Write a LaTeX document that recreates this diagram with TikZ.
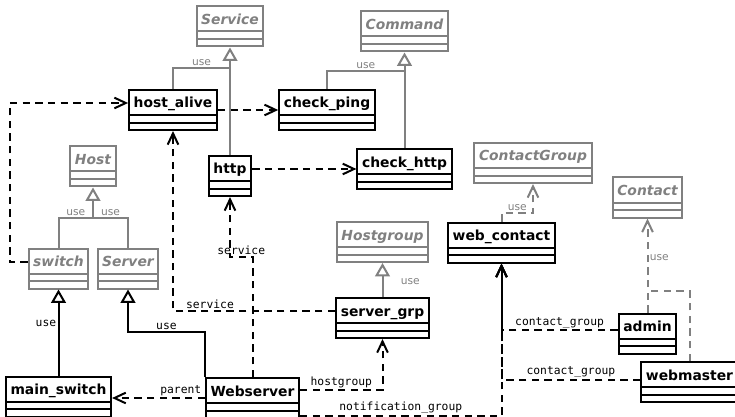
\documentclass[tikz,border=0pt]{standalone}
\usepackage{fontspec}
\setmainfont{DejaVu Sans}
\setmonofont{DejaVu Sans Mono}
\usetikzlibrary{arrows.meta}

\def\lw{1.5pt}

% class boxes: name + two empty compartments
\tikzset{
	classbox/.style={
		draw=#1, text=#1, line width=\lw,
		inner xsep=3.5pt, inner ysep=0pt,
		text height=13.5pt, text depth=16.5pt,
		font=\bfseries\fontsize{10.4}{12}\selectfont,
		path picture={
			\draw[#1, line width=\lw] ([yshift=11.25pt]path picture bounding box.south west) -- ([yshift=11.25pt]path picture bounding box.south east);
			\draw[#1, line width=\lw] ([yshift=5.6pt]path picture bounding box.south west) -- ([yshift=5.6pt]path picture bounding box.south east);
		}% path picture
	},
	classbox/.default=black,
	abstractbox/.style={classbox=gray, font=\bfseries\itshape\fontsize{10.4}{12}\selectfont}
}

% links
\tikzset{
	gen/.style={line width=\lw, -{Triangle[open, length=10pt, width=11pt]}},
	plain/.style={line width=\lw},
	dep/.style={line width=\lw, dash pattern=on 5.5pt off 4pt, -{Straight Barb[length=8.5pt, width=8pt]}},
	deponly/.style={line width=\lw, dash pattern=on 5.5pt off 4pt},
	lbl/.style={font=\ttfamily\fontsize{8.5}{10}\selectfont, inner sep=1pt},
	uselbl/.style={font=\fontsize{8}{10}\selectfont, text=gray, inner sep=1pt}
}

\begin{document}
\begin{tikzpicture}[x=0.75pt, y=-0.75pt]
\useasboundingbox (0,0) rectangle (735,417);

% abstract classes
\node[abstractbox] (Service) at (230,26.5) {Service};
\node[abstractbox] (Command) at (404.5,31.5) {Command};
\node[abstractbox] (Host) at (93,166.5) {Host};
\node[abstractbox] (ContactGroup) at (533,163) {ContactGroup};
\node[abstractbox] (Contact) at (647.5,197.5) {Contact};
\node[abstractbox] (Hostgroup) at (382.5,242) {Hostgroup};
\node[abstractbox] (switch) at (58.5,268.5) {switch};
\node[abstractbox] (Server) at (128,268.5) {Server};

% objects
\node[classbox] (host_alive) at (173,110) {host\_alive};
\node[classbox] (check_ping) at (327,110) {check\_ping};
\node[classbox] (http) at (230,176) {http};
\node[classbox] (check_http) at (404.5,169) {check\_http};
\node[classbox] (web_contact) at (501.5,242.5) {web\_contact};
\node[classbox] (server_grp) at (382.5,318) {server\_grp};
\node[classbox] (admin) at (647.5,333.5) {admin};
\node[classbox] (webmaster) at (689.5,382) {webmaster};
\node[classbox] (main_switch) at (58.5,396.5) {main\_switch};
\node[classbox] (Webserver) at (252.5,398) {Webserver};

% joints
\coordinate (servicejoin) at (230,68);
\coordinate (commandjoin) at (404.5,71);
\coordinate (hostjoin) at (93,218);
\coordinate (cgjoin) at (533,213);
\coordinate (contactjoin) at (647.5,291);

% templates (gray)
\draw[gen, gray] (http.north) -- (Service.south);
\draw[plain, gray] (host_alive.north) |- node[uselbl, above, pos=0.75] {use} (servicejoin);
\draw[gen, gray] (check_http.north) -- (Command.south);
\draw[plain, gray] (check_ping.north) |- node[uselbl, above, pos=0.75] {use} (commandjoin);
\draw[gen, gray] (hostjoin) -- (Host.south);
\draw[plain, gray] (switch.north) |- node[uselbl, above, pos=0.75] {use} (hostjoin);
\draw[plain, gray] (Server.north) |- node[uselbl, above, pos=0.75] {use} (hostjoin);
\draw[gen, gray] (server_grp.north) -- node[uselbl, right=12pt, pos=0.45] {use} (Hostgroup.south);
\draw[dep, gray] (web_contact.north) |- node[uselbl, above, pos=0.75] {use} (cgjoin) -- (ContactGroup.south);
\draw[dep, gray] (admin.north) -- node[uselbl, right, pos=0.58] {use} (Contact.south);
\draw[deponly, gray] (webmaster.north) |- (contactjoin);

% templates (black)
\draw[gen] (main_switch.north) -- node[lbl, left, pos=0.6] {use} (switch.south);
\draw[gen] (Webserver.north west) -- ++(0,-45) -| node[lbl, above, pos=0.25] {use} (Server.south);

% references
\draw[dep] (host_alive.east) -- (check_ping.west);
\draw[dep] (http.east |- check_http.west) -- (check_http.west);
\draw[dep] ([yshift=4.9pt]switch.west) -- ++(-18,0) |- ([yshift=5.25pt]host_alive.west);
\draw[dep] (Webserver.west) -- node[lbl, above, pos=0.26] {parent} (Webserver.west -| main_switch.east);
\draw[dep] (Webserver.north) -- ++(0,-120) -| node[lbl, above, pos=0.25] {service} (http.south);
\draw[dep] ([yshift=5.25pt]server_grp.west) -| node[lbl, above, pos=0.386] {service} (host_alive.south);
\draw[dep] ([yshift=6pt]Webserver.east) -| node[lbl, above, pos=0.25] {hostgroup} (server_grp.south);
\draw[dep] ([yshift=-13.5pt]Webserver.east) -| node[lbl, above, pos=0.25] {notification\_group} (web_contact.south);
\draw[dep] ([yshift=2.6pt]admin.west) -| node[lbl, above, pos=0.25] {contact\_group} (web_contact.south);
\draw[dep] ([yshift=1.5pt]webmaster.west) -| node[lbl, above, pos=0.25] {contact\_group} (web_contact.south);

\end{tikzpicture}
\end{document}
